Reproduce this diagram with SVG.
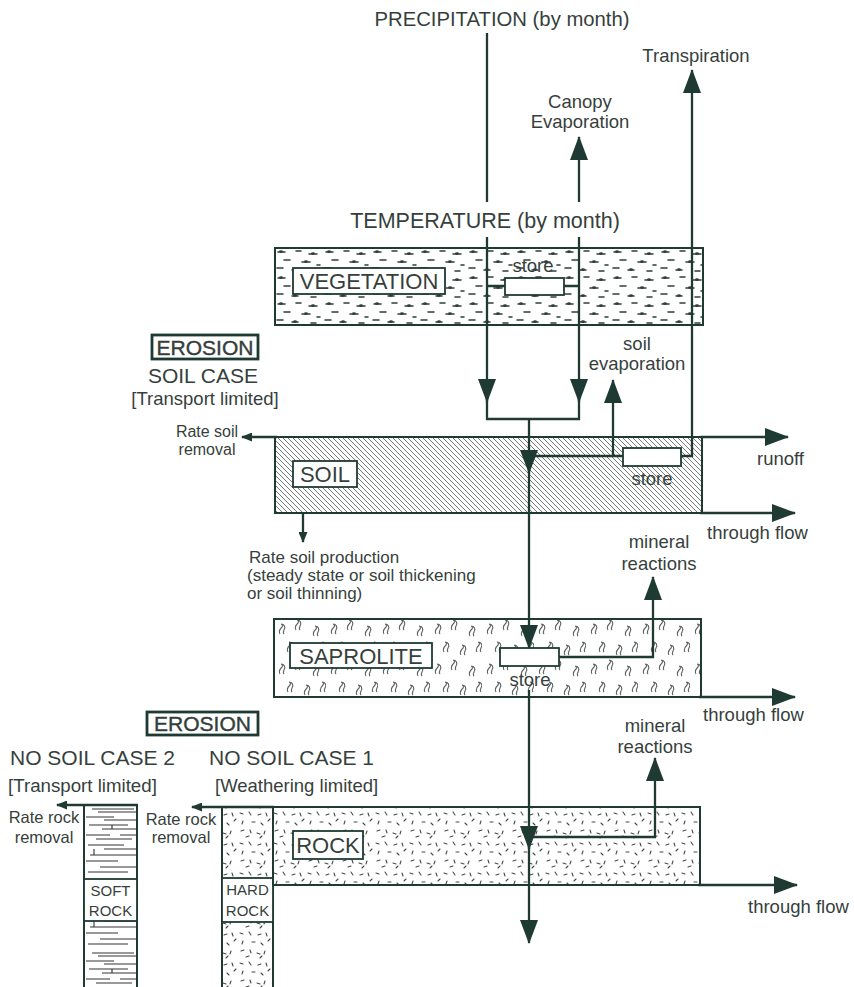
<svg xmlns="http://www.w3.org/2000/svg" xmlns:xlink="http://www.w3.org/1999/xlink" width="854" height="987" viewBox="0 0 854 987">
<style>
.t{font-family:"Liberation Sans",Arial,Helvetica,sans-serif;fill:#363f3c}
.c{text-anchor:middle}
.s20{font-size:20.3px}
.s21{font-size:21px}
.s22{font-size:22px}
.s18{font-size:18.5px}
.s17{font-size:17px}
.s16{font-size:16.5px}
.s15{font-size:15px}
.ln{fill:none;stroke:#1f3a33;stroke-width:2.3}
.bd{stroke:#1f3a33;stroke-width:2}
.lb{fill:#fff;stroke:#1f3a33;stroke-width:1.8}
.er{fill:#fff;stroke:#1f3a33;stroke-width:2.8}
.big{marker-end:url(#ah)}
.sml{marker-end:url(#as)}
</style>
<defs>
<marker id="ah" markerUnits="userSpaceOnUse" markerWidth="24" markerHeight="18" refX="23" refY="9" orient="auto" viewBox="0 0 24 18">
<path d="M0,0 L24,9 L0,18 z" fill="#1f3a33"/>
</marker>
<marker id="as" markerUnits="userSpaceOnUse" markerWidth="11" markerHeight="9" refX="10" refY="4.5" orient="auto" viewBox="0 0 11 9">
<path d="M0,0 L11,4.5 L0,9 z" fill="#1f3a33"/>
</marker>
<pattern id="veg" patternUnits="userSpaceOnUse" x="275" y="248" width="48" height="26">
<g stroke="#2f3d38" stroke-width="1.6" stroke-linecap="round" fill="none">
<path d="M3 4h7M21 3h5M34 6h8M9 12h6M27 14h8M42 17h3M2 20h6M17 22h6M36 23h5"/>
</g>
<g fill="#2f3d38"><ellipse cx="6" cy="3.6" rx="2" ry="1.3"/><ellipse cx="38" cy="5.6" rx="2" ry="1.3"/><ellipse cx="31" cy="13.6" rx="2" ry="1.3"/><ellipse cx="20" cy="21.6" rx="2" ry="1.3"/></g>
</pattern>
<pattern id="hatch" patternUnits="userSpaceOnUse" width="5" height="5">
<path d="M-1 -1L6 6M-1 4L1 6M4 -1L6 1" stroke="#4a4f4d" stroke-width="0.75"/>
</pattern>
<path id="fl" d="M0 0c-2-3 0-5 2-7c1-1 0-3-1-3c3 0 5 3 3 6c-1 2-1 3 0 4" fill="none" stroke="#5c6360" stroke-width="1.1"/>
<pattern id="sap" patternUnits="userSpaceOnUse" x="274" y="619" width="52" height="40">
<use xlink:href="#fl" x="6" y="15"/>
<use xlink:href="#fl" x="22" y="11"/>
<use xlink:href="#fl" x="40" y="17"/>
<use xlink:href="#fl" x="14" y="33"/>
<use xlink:href="#fl" x="31" y="36"/>
<use xlink:href="#fl" x="47" y="33"/>
</pattern>
<pattern id="rk" patternUnits="userSpaceOnUse" width="34" height="30">
<path d="M2 3l3 1M11 2l2 3M20 5l3-1M28 3l1 3M5 11l-1 3M14 12h3M23 13l2 2M30 11l2-2M3 21l3-1M12 20l1 3M19 23l3 1M27 21l-1 3M8 27l3-1M22 28l2-2" stroke="#444a47" stroke-width="1.1" stroke-linecap="round" fill="none"/>
</pattern>
<pattern id="sr" patternUnits="userSpaceOnUse" x="84" y="805" width="53" height="72">
<path d="M8 4H50M14 7H52M2 12H30M20 15H52M5 20H44M18 24H52M28 24v-4M2 30H26M36 30H52M12 34H48M4 40H40M20 44H52M10 44v6M6 50H52M2 56H34M16 62H52M4 67H44" stroke="#333" stroke-width="1.1" fill="none"/>
</pattern>
</defs>

<rect width="854" height="987" fill="#fff"/>

<g id="precipitation">
<text class="t c s20" x="502" y="26">PRECIPITATION (by month)</text>
</g>
<g id="temperature">
<text class="t c" style="font-size:21.5px" x="485" y="228">TEMPERATURE (by month)</text>
</g>
<g id="transpiration">
<text class="t c s18" x="696" y="62">Transpiration</text>
</g>
<g id="canopy-evaporation">
<text class="t c s18" x="580" y="108">Canopy</text>
<text class="t c s18" x="580" y="128">Evaporation</text>
</g>

<g id="vegetation">
<rect x="275" y="248" width="428" height="77" fill="url(#veg)" class="bd"/>
<rect x="293" y="268" width="152" height="26" class="lb"/>
<text class="t c s22" x="369" y="289">VEGETATION</text>
<rect x="505" y="278" width="59" height="17" class="lb"/>
<text class="t c s18" x="533" y="272">store</text>
</g>

<g id="erosion-soil-case">
<rect x="152" y="335" width="106" height="24" class="er"/>
<text class="t c s21" x="205" y="354.5" style="stroke:#333d3a;stroke-width:0.4">EROSION</text>
<text class="t c s21" x="203" y="383">SOIL CASE</text>
<text class="t c s18" x="205" y="405">[Transport limited]</text>
<text class="t c" style="font-size:16px" x="207" y="437">Rate soil</text>
<text class="t c" style="font-size:16px" x="207" y="455">removal</text>
</g>

<g id="soil">
<rect x="275" y="437" width="427" height="76" fill="url(#hatch)" class="bd"/>
<rect x="293" y="461" width="64" height="26" class="lb"/>
<text class="t c s22" x="325" y="482">SOIL</text>
<rect x="623" y="448" width="58" height="18" class="lb"/>
<text class="t c s18" x="652" y="485">store</text>
</g>
<g id="soil-evaporation">
<text class="t c s18" x="637" y="350">soil</text>
<text class="t c s18" x="637" y="370">evaporation</text>
</g>
<g id="runoff"><text class="t s18" x="757" y="465">runoff</text></g>
<g id="through-flow-soil"><text class="t s18" x="707" y="539">through flow</text></g>

<g id="soil-production">
<text class="t s17" x="249" y="563">Rate soil production</text>
<text class="t s17" x="247" y="581">(steady state or soil thickening</text>
<text class="t s17" x="247" y="599">or soil thinning)</text>
</g>

<g id="mineral-reactions-1">
<text class="t c s18" x="659" y="548">mineral</text>
<text class="t c s18" x="659" y="570">reactions</text>
</g>

<g id="saprolite">
<rect x="274" y="619" width="427" height="78" fill="url(#sap)" class="bd"/>
<rect x="290" y="643" width="142" height="25" class="lb"/>
<text class="t c s22" x="361" y="663.5">SAPROLITE</text>
<rect x="500" y="648" width="59" height="18" class="lb"/>
<text class="t c s18" x="530" y="686">store</text>
</g>
<g id="through-flow-saprolite"><text class="t s18" x="703" y="721">through flow</text></g>

<g id="mineral-reactions-2">
<text class="t c s18" x="655" y="732">mineral</text>
<text class="t c s18" x="655" y="753">reactions</text>
</g>

<g id="erosion-no-soil">
<rect x="147" y="712" width="111" height="23" class="er"/>
<text class="t c s21" x="202.5" y="731" style="stroke:#333d3a;stroke-width:0.4">EROSION</text>
<text class="t s21" x="10" y="765">NO SOIL CASE 2</text>
<text class="t s21" x="209" y="765">NO SOIL CASE 1</text>
<text class="t" style="font-size:18.7px" x="8" y="792">[Transport limited]</text>
<text class="t s18" x="215" y="792">[Weathering limited]</text>
<text class="t c s16" x="44" y="823">Rate rock</text>
<text class="t c s16" x="44" y="843">removal</text>
<text class="t c s16" x="181" y="825">Rate rock</text>
<text class="t c s16" x="181" y="843">removal</text>
</g>

<g id="soft-rock">
<rect x="84" y="805" width="53" height="190" fill="url(#sr)" class="bd"/>
<rect x="84" y="879" width="53" height="42" class="lb"/>
<text class="t c s15" x="110.5" y="896">SOFT</text>
<text class="t c s15" x="110.5" y="916">ROCK</text>
</g>

<g id="hard-rock">
<rect x="222" y="807" width="51" height="190" fill="url(#rk)" class="bd"/>
<rect x="222" y="878" width="51" height="44" class="lb"/>
<text class="t c s15" x="247.5" y="895">HARD</text>
<text class="t c s15" x="247.5" y="916">ROCK</text>
</g>

<g id="rock">
<rect x="273" y="807" width="427" height="78" fill="url(#rk)" class="bd"/>
<rect x="293" y="831" width="70" height="28" class="lb"/>
<text class="t c s22" x="328" y="853">ROCK</text>
</g>
<g id="through-flow-rock"><text class="t s18" x="748" y="913">through flow</text></g>

<g id="connectors">
<path class="ln" d="M487 33V202"/>
<path class="ln big" d="M487 237V402"/>
<path class="ln big" d="M579 202V137"/>
<path class="ln big" d="M579 237V402"/>
<path class="ln" d="M487 286H505M564 286H579"/>
<path class="ln" d="M487 398V419H579V398"/>
<path class="ln big" d="M529 419V473"/>
<path class="ln big" d="M529 470V648"/>
<path class="ln" d="M529 456H623"/>
<path class="ln big" d="M613 456V380"/>
<path class="ln big" d="M681 456H692V70"/>
<path class="ln big" d="M700 437H788"/>
<path class="ln sml" d="M277 437H242"/>
<path class="ln big" d="M700 513H795"/>
<path class="ln sml" d="M303 514V542"/>
<path class="ln big" d="M559 657H653V577"/>
<path class="ln big" d="M699 697H795"/>
<path class="ln big" d="M529 690V849"/>
<path class="ln big" d="M529 837H655V758"/>
<path class="ln big" d="M698 885H797"/>
<path class="ln big" d="M529 846V943"/>
<path class="ln sml" d="M274 807H192"/>
<path class="ln sml" d="M138 805H57"/>
</g>
</svg>
